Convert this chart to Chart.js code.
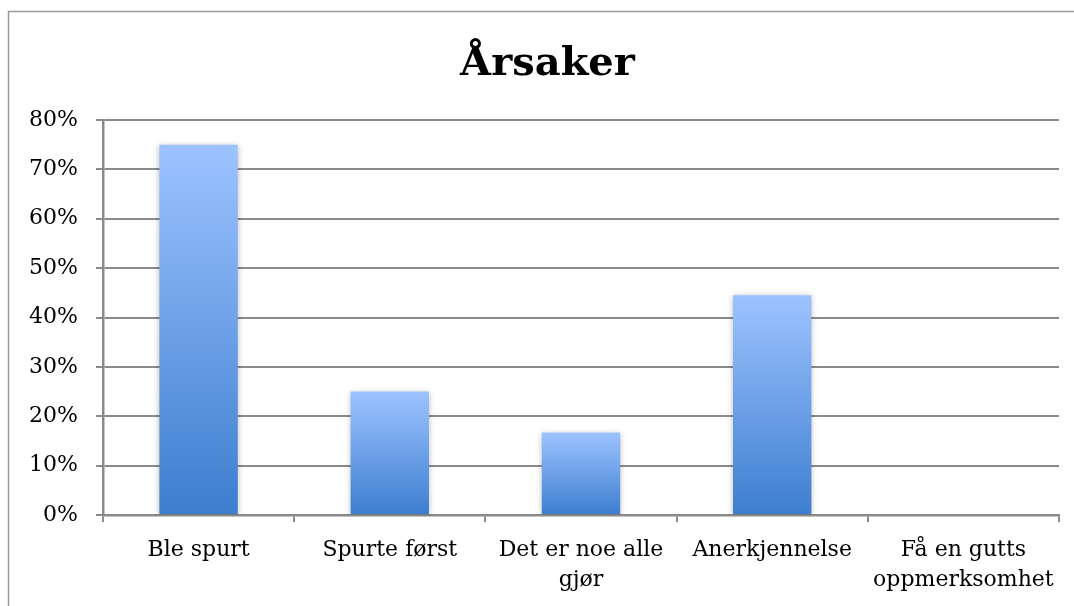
<!DOCTYPE html>
<html>
<head>
<meta charset="utf-8">
<script src="https://cdn.jsdelivr.net/npm/chart.js@4"></script>
<style>
  html, body { margin: 0; padding: 0; background: #ffffff; }
  canvas { display: block; }
</style>
</head>
<body>
<canvas id="c" width="1074" height="606"></canvas>
<script>
const titleText = 'Årsaker';
const categories = [
  'Ble spurt',
  'Spurte først',
  ['Det er noe alle', 'gjør'],
  'Anerkjennelse',
  ['Få en gutts', 'oppmerksomhet']
];
const values = [75, 25, 16.7, 44.5, 0];
const yTicks = [0, 10, 20, 30, 40, 50, 60, 70, 80];

const frame = {
  id: 'frame',
  beforeDraw(chart) {
    const c = chart.ctx;
    c.save();
    c.strokeStyle = '#9a9a9a';
    c.lineWidth = 1.5;
    c.beginPath();
    c.moveTo(8.5, 606);
    c.lineTo(8.5, 11.5);
    c.lineTo(1074, 11.5);
    c.stroke();
    c.restore();
  }
};

const barShadow = {
  id: 'barShadow',
  beforeDatasetsDraw(chart) {
    const c = chart.ctx;
    c.save();
    c.shadowColor = 'rgba(0,0,0,0.28)';
    c.shadowBlur = 6;
    c.shadowOffsetX = 0;
    c.shadowOffsetY = 1;
  },
  afterDatasetsDraw(chart) {
    chart.ctx.restore();
  }
};

function barGradient(ctx) {
  const chart = ctx.chart;
  if (!chart.chartArea || !chart.scales.y) return '#6fa0e8';
  const y = chart.scales.y;
  const v = ctx.raw;
  const top = y.getPixelForValue(v);
  const bot = y.getPixelForValue(0);
  if (!isFinite(top) || Math.abs(bot - top) < 1) return '#3e7ecf';
  const g = chart.ctx.createLinearGradient(0, top, 0, bot);
  g.addColorStop(0, '#9dc3ff');
  g.addColorStop(1, '#3d7ecf');
  return g;
}

const chart = new Chart(document.getElementById('c'), {
  type: 'bar',
  data: {
    labels: categories,
    datasets: [{
      data: values,
      backgroundColor: barGradient,
      borderWidth: 0,
      categoryPercentage: 1,
      barPercentage: 0.41
    }]
  },
  options: {
    responsive: false,
    devicePixelRatio: 1,
    animation: false,
    layout: { padding: { left: 10, right: 15, top: 0, bottom: 0 } },
    plugins: {
      legend: { display: false },
      tooltip: { enabled: false },
      title: {
        display: true,
        text: titleText,
        color: '#000000',
        font: { family: 'DejaVu Serif', size: 40, weight: 'bold', lineHeight: 1.2 },
        padding: { top: 41, bottom: 31 }
      }
    },
    scales: {
      x: {
        afterFit(scale) { scale.height = 91; },
        grid: {
          display: true,
          offset: true,
          drawOnChartArea: false,
          drawTicks: true,
          tickLength: 7,
          color: '#8a8a8a',
          lineWidth: 2
        },
        border: { display: true, color: '#8a8a8a', width: 2.5 },
        ticks: {
          color: '#000000',
          padding: 13,
          maxRotation: 0,
          autoSkip: false,
          font: { family: 'DejaVu Serif', size: 22, lineHeight: 1.36 }
        }
      },
      y: {
        min: 0,
        max: 80,
        afterFit(scale) { scale.width = 93; },
        afterBuildTicks(scale) { scale.ticks = yTicks.map(v => ({ value: v })); },
        grid: {
          color: '#8a8a8a',
          lineWidth: 2,
          drawTicks: true,
          tickLength: 7
        },
        border: { display: true, color: '#8a8a8a', width: 2.5 },
        ticks: {
          color: '#000000',
          padding: 18,
          callback: v => v + '%',
          font: { family: 'DejaVu Serif', size: 22 }
        }
      }
    }
  },
  plugins: [frame, barShadow]
});

// shift the title slightly right, as in the reference
if (chart.titleBlock) {
  const tb = chart.titleBlock;
  const origDraw = tb.draw.bind(tb);
  tb.draw = function (area) {
    const c = this.ctx;
    c.save();
    c.translate(13, 0);
    origDraw(area);
    c.restore();
  };
  chart.draw();
}
</script>
</body>
</html>
